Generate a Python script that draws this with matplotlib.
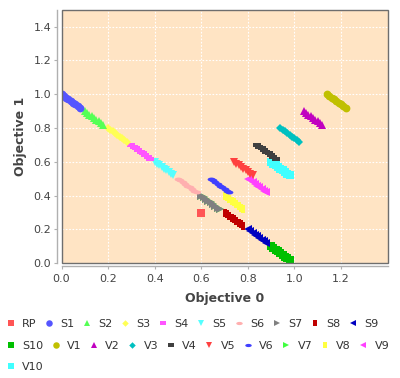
import matplotlib
matplotlib.use('Agg')
import matplotlib.pyplot as plt
import numpy as np
from matplotlib.patches import Rectangle

# reference point
rp_x = [0.6]
rp_y = [0.3]

# S series (points along the front)
s1_x = [0.00, 0.01, 0.02, 0.03, 0.04, 0.05, 0.06, 0.07, 0.08]
s1_y = [1.00, 0.99, 0.98, 0.97, 0.96, 0.95, 0.94, 0.93, 0.92]
s2_x = [0.10, 0.11, 0.12, 0.13, 0.14, 0.15, 0.16, 0.17, 0.18]
s2_y = [0.90, 0.89, 0.88, 0.87, 0.86, 0.85, 0.84, 0.83, 0.82]
s3_x = [0.20, 0.21, 0.22, 0.23, 0.24, 0.25, 0.26, 0.27, 0.28]
s3_y = [0.80, 0.79, 0.78, 0.77, 0.76, 0.75, 0.74, 0.73, 0.72]
s4_x = [0.30, 0.31, 0.32, 0.33, 0.34, 0.35, 0.36, 0.37, 0.38]
s4_y = [0.70, 0.69, 0.68, 0.67, 0.66, 0.65, 0.64, 0.63, 0.62]
s5_x = [0.40, 0.41, 0.42, 0.43, 0.44, 0.45, 0.46, 0.47, 0.48]
s5_y = [0.60, 0.59, 0.58, 0.57, 0.56, 0.55, 0.54, 0.53, 0.52]
s6_x = [0.50, 0.51, 0.52, 0.53, 0.54, 0.55, 0.56, 0.57, 0.58]
s6_y = [0.50, 0.49, 0.48, 0.47, 0.46, 0.45, 0.44, 0.43, 0.42]
s7_x = [0.60, 0.61, 0.62, 0.63, 0.64, 0.65, 0.66, 0.67, 0.68]
s7_y = [0.40, 0.39, 0.38, 0.37, 0.36, 0.35, 0.34, 0.33, 0.32]
s8_x = [0.70, 0.71, 0.72, 0.73, 0.74, 0.75, 0.76, 0.77, 0.78]
s8_y = [0.30, 0.29, 0.28, 0.27, 0.26, 0.25, 0.24, 0.23, 0.22]
s9_x = [0.80, 0.81, 0.82, 0.83, 0.84, 0.85, 0.86, 0.87, 0.88]
s9_y = [0.20, 0.19, 0.18, 0.17, 0.16, 0.15, 0.14, 0.13, 0.12]
s10_x = [0.90, 0.91, 0.92, 0.93, 0.94, 0.95, 0.96, 0.97, 0.98]
s10_y = [0.10, 0.09, 0.08, 0.07, 0.06, 0.05, 0.04, 0.03, 0.02]

# V series
v1_x = [1.14, 1.15, 1.16, 1.17, 1.18, 1.19, 1.20, 1.21, 1.22]
v1_y = [1.00, 0.99, 0.98, 0.97, 0.96, 0.95, 0.94, 0.93, 0.92]
v2_x = [1.04, 1.05, 1.06, 1.07, 1.08, 1.09, 1.10, 1.11, 1.12]
v2_y = [0.90, 0.89, 0.88, 0.87, 0.86, 0.85, 0.84, 0.83, 0.82]
v3_x = [0.94, 0.95, 0.96, 0.97, 0.98, 0.99, 1.00, 1.01, 1.02]
v3_y = [0.80, 0.79, 0.78, 0.77, 0.76, 0.75, 0.74, 0.73, 0.72]
v4_x = [0.84, 0.85, 0.86, 0.87, 0.88, 0.89, 0.90, 0.91, 0.92]
v4_y = [0.70, 0.69, 0.68, 0.67, 0.66, 0.65, 0.64, 0.63, 0.62]
v5_x = [0.74, 0.75, 0.76, 0.77, 0.78, 0.79, 0.80, 0.81, 0.82]
v5_y = [0.60, 0.59, 0.58, 0.57, 0.56, 0.55, 0.54, 0.53, 0.52]
v6_x = [0.64, 0.65, 0.66, 0.67, 0.68, 0.69, 0.70, 0.71, 0.72]
v6_y = [0.50, 0.49, 0.48, 0.47, 0.46, 0.45, 0.44, 0.43, 0.42]
v7_x = [0.60, 0.61, 0.62, 0.63, 0.64, 0.65, 0.66, 0.67, 0.68]
v7_y = [0.40, 0.39, 0.38, 0.37, 0.36, 0.35, 0.34, 0.33, 0.32]
v8_x = [0.70, 0.71, 0.72, 0.73, 0.74, 0.75, 0.76, 0.77, 0.78]
v8_y = [0.40, 0.39, 0.38, 0.37, 0.36, 0.35, 0.34, 0.33, 0.32]
v9_x = [0.80, 0.81, 0.82, 0.83, 0.84, 0.85, 0.86, 0.87, 0.88]
v9_y = [0.50, 0.49, 0.48, 0.47, 0.46, 0.45, 0.44, 0.43, 0.42]
v10_x = [0.90, 0.91, 0.92, 0.93, 0.94, 0.95, 0.96, 0.97, 0.98]
v10_y = [0.60, 0.59, 0.58, 0.57, 0.56, 0.55, 0.54, 0.53, 0.52]

names = ['RP', 'S1', 'S2', 'S3', 'S4', 'S5', 'S6', 'S7', 'S8', 'S9',
         'S10', 'V1', 'V2', 'V3', 'V4', 'V5', 'V6', 'V7', 'V8', 'V9', 'V10']
xs = [rp_x, s1_x, s2_x, s3_x, s4_x, s5_x, s6_x, s7_x, s8_x, s9_x,
      s10_x, v1_x, v2_x, v3_x, v4_x, v5_x, v6_x, v7_x, v8_x, v9_x, v10_x]
ys = [rp_y, s1_y, s2_y, s3_y, s4_y, s5_y, s6_y, s7_y, s8_y, s9_y,
      s10_y, v1_y, v2_y, v3_y, v4_y, v5_y, v6_y, v7_y, v8_y, v9_y, v10_y]

colors = ['#FF5555', '#5555FF', '#55FF55', '#FFFF55', '#FF55FF', '#55FFFF',
          '#FFAFAF', '#808080', '#C00000', '#0000C0', '#00C000', '#C0C000',
          '#C000C0', '#00C0C0', '#404040', '#FF4040', '#4040FF', '#40FF40',
          '#FFFF40', '#FF40FF', '#40FFFF']

# jfreechart style shapes
t = np.linspace(0, 2 * np.pi, 25)
ellipse = list(zip(np.cos(t), 0.5 * np.sin(t)))
hrect = [(-1, -0.5), (1, -0.5), (1, 0.5), (-1, 0.5), (-1, -0.5)]
vrect = [(-0.5, -1), (0.5, -1), (0.5, 1), (-0.5, 1), (-0.5, -1)]
shape_cycle = ['s', 'o', '^', 'D', hrect, 'v', ellipse, '>', vrect, '<']
plot_ms = 7.8 * 72 / 100.0   # marker size in the plot (points)
leg_ms = 6.5 * 72 / 100.0    # marker size in the legend

fig = plt.figure(figsize=(4.0, 3.78), dpi=100)
ax = fig.add_axes([61.5 / 400, 1 - 263.3 / 378, 326.8 / 400, 253 / 378])
ax.set_facecolor('#FFE4C4')

handles = {}
# draw in reverse so the first series ends up on top
for i in range(len(names) - 1, -1, -1):
    m = shape_cycle[i % 10]
    k = 1 / np.sqrt(2) if m == 'D' else 1.0
    line, = ax.plot(xs[i], ys[i], ls='none', marker=m, ms=plot_ms * k, mew=0,
                    color=colors[i], label=names[i])
    proxy, = ax.plot([], [], ls='none', marker=m, ms=leg_ms * k, mew=0,
                     color=colors[i])
    handles[names[i]] = proxy

ax.set_xlim(0, 1.403)
ax.set_ylim(0, 1.497)
ax.set_xticks(np.arange(0, 1.3, 0.2))
ax.set_yticks(np.arange(0, 1.5, 0.2))
ax.xaxis.set_major_formatter(matplotlib.ticker.FormatStrFormatter('%.1f'))
ax.yaxis.set_major_formatter(matplotlib.ticker.FormatStrFormatter('%.1f'))

ax.grid(True, color='white', lw=0.8, ls=(0, (1.5, 1.5)))
ax.set_axisbelow(True)

for s in ['top', 'right']:
    ax.spines[s].set_visible(False)
ax.spines['left'].set_position(('outward', 3))
ax.spines['bottom'].set_position(('outward', 1.8))
for s in ['left', 'bottom']:
    ax.spines[s].set_color('#B0B0B0')
    ax.spines[s].set_linewidth(1)
ax.add_patch(Rectangle((0, 0), 1, 1, transform=ax.transAxes, fill=False,
                       ec='#6E6E6E', lw=1, clip_on=False, zorder=5))

ax.tick_params(axis='both', length=2, width=0.8, color='#B0B0B0',
               labelsize=8, labelcolor='#444444')
ax.tick_params(axis='x', pad=4)
ax.tick_params(axis='y', pad=2.5)

ax.set_xlabel('Objective 0', fontsize=9, fontweight='bold', color='#444444', va='center')
ax.xaxis.set_label_coords(0.5, (263.3 - 298.3) / 253)
ax.set_ylabel('Objective 1', fontsize=9, fontweight='bold', color='#444444', va='center')
ax.yaxis.set_label_coords((20.5 - 61.5) / 326.8, 0.5)

# legend laid out in three rows like a flow layout
rows = [names[0:10], names[10:20], names[20:]]
row_y = [324, 345.7, 366.7]
for row, yy in zip(rows, row_y):
    fig.legend([handles[n] for n in row], row, loc='center left',
               bbox_to_anchor=(6.2 / 400, 1 - yy / 378), ncol=len(row),
               frameon=False, fontsize=8, handlelength=0.8,
               handletextpad=0.62, columnspacing=0.72, borderpad=0,
               borderaxespad=0, numpoints=1, labelcolor='#333333')

fig.savefig('out.png', dpi=100)
